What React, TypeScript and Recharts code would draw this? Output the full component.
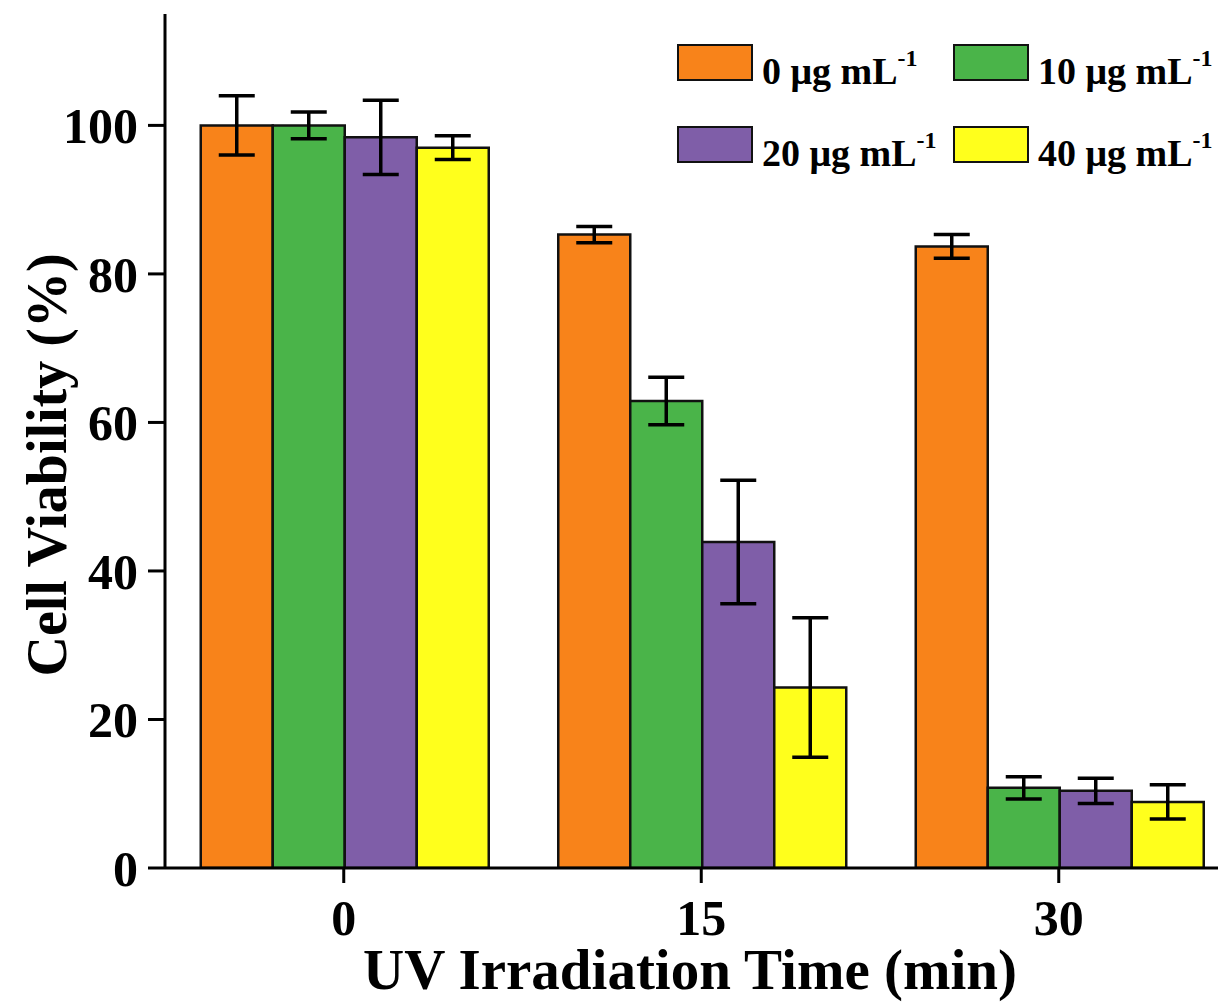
import { Bar, BarChart, ErrorBar, Label, Legend, XAxis, YAxis } from "recharts";

// UV irradiation time (min)
const times = ["0", "15", "30"];

// cell viability (%) per concentration, with error (±)
const v0 = [100, 85.3, 83.7];
const e0 = [4.0, 1.1, 1.6];
const v10 = [100, 62.9, 10.8];
const e10 = [1.8, 3.2, 1.5];
const v20 = [98.4, 43.9, 10.4];
const e20 = [5.0, 8.3, 1.7];
const v40 = [97.0, 24.3, 8.9];
const e40 = [1.6, 9.4, 2.3];

const yTicks = [0, 20, 40, 60, 80, 100];

const series = [
  { key: "v0", err: "e0", name: "0 μg mL", color: "#F8831A" },
  { key: "v10", err: "e10", name: "10 μg mL", color: "#4AB449" },
  { key: "v20", err: "e20", name: "20 μg mL", color: "#7F5EA8" },
  { key: "v40", err: "e40", name: "40 μg mL", color: "#FFFF1C" },
];

const data = times.map((t, i) => ({
  t,
  v0: v0[i],
  e0: e0[i],
  v10: v10[i],
  e10: e10[i],
  v20: v20[i],
  e20: e20[i],
  v40: v40[i],
  e40: e40[i],
}));

const FONT = "'Liberation Serif', 'Times New Roman', serif";

function LegendBox() {
  return (
    <div style={{ display: "flex", flexWrap: "wrap", width: 552, fontFamily: FONT, fontWeight: "bold" }}>
      {series.map((s) => (
        <div key={s.key} style={{ width: 276, height: 82, display: "flex", alignItems: "flex-start" }}>
          <div
            style={{
              width: 76,
              height: 37,
              boxSizing: "border-box",
              border: "2.5px solid #111",
              background: s.color,
              marginRight: 9,
              flex: "none",
            }}
          />
          <div style={{ fontSize: 38, lineHeight: "37px", color: "#000", whiteSpace: "nowrap" }}>
            {s.name}
            <sup style={{ fontSize: 24, position: "relative", top: -4 }}>-1</sup>
          </div>
        </div>
      ))}
    </div>
  );
}

export default function App() {
  return (
    <div style={{ position: "absolute", left: 0, top: 0, width: 1218, height: 1002, overflow: "hidden", background: "#fff" }}>
      <BarChart
        width={1260}
        height={1002}
        data={data}
        margin={{ top: 14, right: 22.5, left: 0, bottom: 0 }}
        barCategoryGap="10%"
        barGap={0}
      >
        <XAxis
          dataKey="t"
          height={134}
          tickSize={15}
          tickMargin={16}
          axisLine={{ stroke: "#000", strokeWidth: 3 }}
          tickLine={{ stroke: "#000", strokeWidth: 3 }}
          tick={{ fontSize: 50, fontFamily: FONT, fontWeight: "bold", fill: "#000" }}
        >
          <Label
            content={() => (
              <text x={690} y={989} textAnchor="middle" fontSize={57} fontFamily={FONT} fontWeight="bold" fill="#000">
                UV Irradiation Time (min)
              </text>
            )}
          />
        </XAxis>
        <XAxis
          xAxisId="top"
          dataKey="t"
          orientation="top"
          height={0}
          tick={false}
          tickLine={false}
          axisLine={{ stroke: "#000", strokeWidth: 3 }}
        />
        <YAxis
          width={165}
          domain={[0, 115]}
          ticks={yTicks}
          allowDataOverflow
          tickSize={17}
          tickMargin={10}
          axisLine={{ stroke: "#000", strokeWidth: 3 }}
          tickLine={{ stroke: "#000", strokeWidth: 3 }}
          tick={{ fontSize: 50, fontFamily: FONT, fontWeight: "bold", fill: "#000" }}
        >
          <Label
            content={() => (
              <text
                x={66}
                y={465}
                transform="rotate(-90 66 465)"
                textAnchor="middle"
                fontSize={56}
                fontFamily={FONT}
                fontWeight="bold"
                fill="#000"
              >
                Cell Viability (%)
              </text>
            )}
          />
        </YAxis>
        <Legend
          layout="horizontal"
          verticalAlign="middle"
          align="center"
          content={<LegendBox />}
          wrapperStyle={{ position: "absolute", left: 677, top: 44, width: 560 }}
        />
        {series.map((s) => (
          <Bar
            key={s.key}
            dataKey={s.key}
            name={s.name}
            fill={s.color}
            stroke="#111"
            strokeWidth={2.5}
            isAnimationActive={false}
          >
            <ErrorBar dataKey={s.err} width={18} stroke="#000" strokeWidth={3.5} direction="y" />
          </Bar>
        ))}
      </BarChart>
    </div>
  );
}
